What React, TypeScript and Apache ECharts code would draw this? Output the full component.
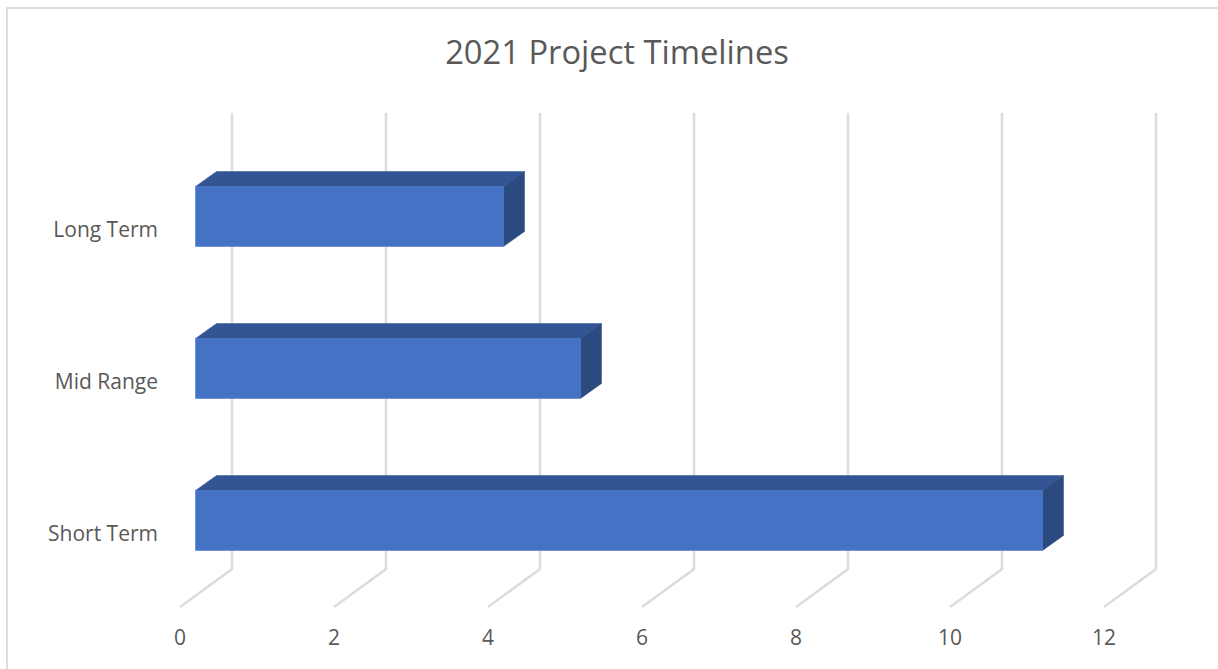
import React, { useEffect, useRef } from "react";
import * as echarts from "echarts";

const categories = ["Short Term", "Mid Range", "Long Term"];
const durations = [11, 5, 4];
const ticks = [0, 2, 4, 6, 8, 10, 12];
const chartTitle = "2021 Project Timelines";

const FONT = "'Open Sans', sans-serif";
const TEXT = "#595959";
const GRID = "#dcdcdc";

export default function App() {
  const ref = useRef<HTMLDivElement>(null);
  useEffect(() => {
    const chart = echarts.init(ref.current!, null, { renderer: "svg" });
    chart.setOption({
      animation: false,
      backgroundColor: "#ffffff",
      title: {
        text: chartTitle,
        left: 612,
        top: 30,
        textAlign: "center",
        textStyle: { color: TEXT, fontFamily: FONT, fontSize: 32.7, fontWeight: "normal" },
      },
      graphic: [
        {
          type: "rect",
          silent: true,
          z: 0,
          shape: { x: 7, y: 8, width: 1300, height: 760 },
          style: { fill: "none", stroke: GRID, lineWidth: 2 },
        },
      ],
      grid: { left: 180, width: 924, top: 153, height: 456 },
      xAxis: {
        type: "value",
        min: 0,
        max: 12,
        interval: 2,
        axisLine: { show: false },
        axisTick: { show: false },
        splitLine: { show: false },
        axisLabel: { color: TEXT, fontFamily: FONT, fontSize: 21, margin: 17 },
      },
      yAxis: {
        type: "category",
        data: categories,
        axisLine: { show: false },
        axisTick: { show: false },
        splitLine: { show: false },
        axisLabel: {
          color: TEXT,
          fontFamily: FONT,
          fontSize: 21,
          margin: 22,
        },
      },
      series: [
        {
          type: "custom",
          silent: true,
          clip: false,
          z: 1,
          data: ticks.map((t) => [t]),
          encode: { x: 0 },
          renderItem: (params: any, api: any) => {
            const cs = params.coordSys;
            const x = api.coord([api.value(0), 0])[0];
            const floor = cs.y + cs.height - 2;
            return {
              type: "polyline",
              shape: {
                points: [
                  [x, floor],
                  [x + 52, floor - 38],
                  [x + 52, floor - 494],
                ],
              },
              style: { stroke: GRID, lineWidth: 2.5, fill: "none" },
            };
          },
        },
        {
          type: "custom",
          silent: true,
          clip: false,
          z: 2,
          data: durations.map((d, i) => [d, categories[i]]),
          encode: { x: 0, y: 1 },
          renderItem: (_params: any, api: any) => {
            const end = api.coord([api.value(0), api.value(1)]);
            const start = api.coord([0, api.value(1)]);
            const x0 = start[0] + 15.5;
            const x1 = end[0] + 15.5;
            const y0 = end[1] - 42.5;
            const y1 = y0 + 60;
            const dx = 21;
            const dy = -15;
            return {
              type: "group",
              children: [
                {
                  type: "polygon",
                  shape: { points: [[x0, y0], [x1, y0], [x1 + dx, y0 + dy], [x0 + dx, y0 + dy]] },
                  style: { fill: "#335593", stroke: "#335593", lineWidth: 0.5 },
                },
                {
                  type: "polygon",
                  shape: { points: [[x1, y0], [x1 + dx, y0 + dy], [x1 + dx, y1 + dy], [x1, y1]] },
                  style: { fill: "#2a4a80", stroke: "#2a4a80", lineWidth: 0.5 },
                },
                {
                  type: "rect",
                  shape: { x: x0, y: y0, width: x1 - x0, height: y1 - y0 },
                  style: { fill: "#4472c4", stroke: "#4472c4", lineWidth: 0.5 },
                },
              ],
            };
          },
        },
      ],
    });
    return () => chart.dispose();
  }, []);
  return (
    <div
      ref={ref}
      style={{ position: "fixed", left: 0, top: 0, width: 1218, height: 669 }}
    />
  );
}
